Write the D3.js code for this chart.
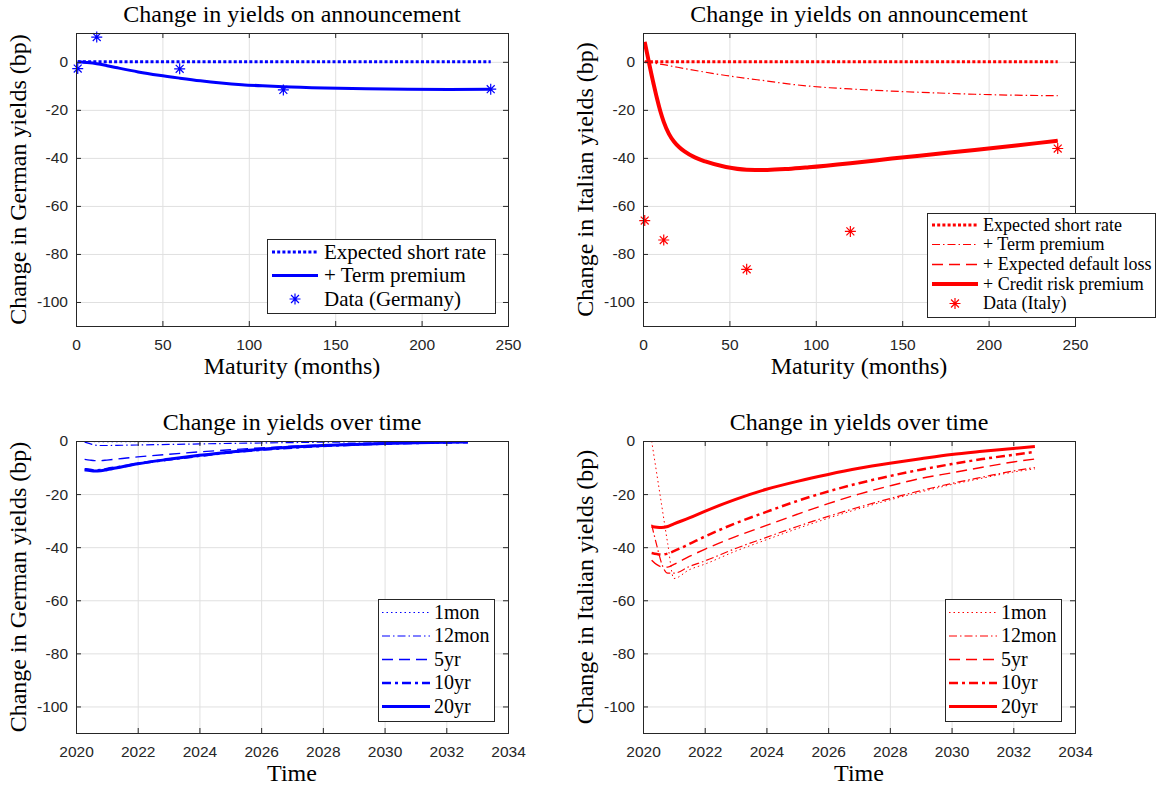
<!DOCTYPE html>
<html>
<head>
<meta charset="utf-8">
<script src="https://cdn.jsdelivr.net/npm/d3@7"></script>
<style>
  body { margin: 0; background: #fff; }
  svg { display: block; }
  .serif { font-family: "Liberation Serif", "Times New Roman", serif; fill: #000; }
  .tick text { font-family: "Liberation Sans", Arial, sans-serif; font-size: 15.5px; fill: #262626; }
  .tick line { stroke: #262626; }
  .grid .tick line { stroke: #e0e0e0; }
</style>
</head>
<body>
<svg id="fig" width="1162" height="787"></svg>
<script>
// ---------- Announcement effect by maturity (months) ----------
const maturities = [1, 3, 6, 12, 18, 24, 36, 48, 60, 72, 84, 96, 108, 120, 144, 168, 192, 216, 240];
const deShortRate = [0, 0, 0, 0, 0, 0, 0, 0, 0, 0, 0, 0, 0, 0, 0, 0, 0, 0, 0];
const deTermPremium = [0, -0.1, -0.3, -0.8, -1.6, -2.5, -4.2, -5.6, -6.8, -7.9, -8.8, -9.5, -10.0, -10.4, -10.9, -11.2, -11.4, -11.5, -11.4];
const itShortRate = [0, 0, 0, 0, 0, 0, 0, 0, 0, 0, 0, 0, 0, 0, 0, 0, 0, 0, 0];
const itTermPremium = [0, -0.2, -0.5, -1.2, -2.0, -2.8, -4.3, -5.7, -6.9, -8.0, -9.2, -10.1, -10.8, -11.3, -12.2, -12.9, -13.5, -13.9, -14.1];

const creditMaturities = [1, 2, 3, 4, 5, 6, 8, 10, 12, 15, 18, 21, 24, 30, 36, 48, 60, 72, 84, 96, 120, 144, 168, 192, 216, 240];
const itDefaultLoss = [8.3, 4.8, 1.3, -2.2, -5.6, -8.8, -15.0, -20.5, -25.0, -30.0, -33.3, -35.6, -37.3, -39.8, -41.5, -43.8, -44.9, -45.0, -44.6, -43.9, -42.2, -40.3, -38.5, -36.7, -34.8, -32.9];
const itCreditRisk = [8.3, 4.8, 1.3, -2.2, -5.6, -8.8, -15.0, -20.5, -25.0, -30.0, -33.3, -35.6, -37.3, -39.8, -41.5, -43.8, -44.9, -45.0, -44.6, -43.9, -42.2, -40.3, -38.5, -36.7, -34.8, -32.9];

const dataMaturities = [1, 12, 60, 120, 240];
const deData = [-2.8, 10.3, -2.9, -11.7, -11.4];
const itData = [-66.1, -74.2, -86.4, -70.6, -36.1];

// ---------- Yield changes over time ----------
const years = [2020.28, 2020.45, 2020.6, 2020.8, 2021, 2021.5, 2022, 2023, 2024, 2025, 2026, 2027, 2028, 2029, 2030, 2031, 2032, 2032.7];
const de1mon  = [0, -0.15, -0.25, -0.3, -0.3, -0.28, -0.25, -0.22, -0.2, -0.17, -0.15, -0.12, -0.1, -0.08, -0.06, -0.05, -0.04, -0.03];
const de12mon = [-0.4, -1.0, -1.5, -1.7, -1.7, -1.6, -1.5, -1.3, -1.1, -0.9, -0.75, -0.6, -0.45, -0.35, -0.28, -0.2, -0.15, -0.12];
const de5yr   = [-6.9, -7.2, -7.4, -7.4, -7.2, -6.6, -6.0, -5.0, -4.1, -3.3, -2.6, -2.0, -1.5, -1.15, -0.85, -0.6, -0.45, -0.35];
const de10yr  = [-10.6, -10.8, -11.0, -10.9, -10.5, -9.6, -8.6, -7.0, -5.6, -4.3, -3.3, -2.5, -1.9, -1.4, -1.0, -0.75, -0.55, -0.45];
const de20yr  = [-10.9, -11.1, -11.3, -11.2, -10.8, -9.7, -8.6, -6.9, -5.4, -4.1, -3.1, -2.3, -1.7, -1.3, -0.95, -0.7, -0.5, -0.4];

const it1mon  = [0, -12.6, -23.8, -38.6, -51.8, -48.5, -46.4, -41.5, -37.2, -33.0, -29.1, -25.5, -22.2, -19.2, -16.4, -14.0, -11.7, -10.5];
const it12mon = [-31.5, -39.5, -46.0, -49.8, -49.8, -47.3, -45.2, -40.5, -36.3, -32.2, -28.4, -24.9, -21.7, -18.7, -16.0, -13.6, -11.3, -10.0];
const it5yr   = [-44.9, -46.6, -47.4, -47.5, -46.5, -43.5, -40.8, -36.0, -31.8, -27.6, -23.6, -20.0, -16.9, -14.1, -12.0, -9.9, -7.9, -6.8];
const it10yr  = [-42.2, -42.6, -42.8, -42.4, -41.5, -38.8, -36.0, -31.0, -26.7, -22.6, -19.0, -15.9, -13.2, -10.8, -8.7, -6.8, -5.2, -4.1];
const it20yr  = [-32.2, -32.5, -32.6, -32.2, -31.2, -29.0, -26.5, -22.0, -18.2, -15.2, -12.6, -10.3, -8.4, -6.7, -5.1, -3.9, -2.8, -2.1];

// ---------- Axis ticks ----------
const maturityTicks = [0, 50, 100, 150, 200, 250];
const yearTicks = [2020, 2022, 2024, 2026, 2028, 2030, 2032, 2034];
const bpTicks = [-100, -80, -60, -40, -20, 0];

// ---------- Drawing ----------
const BLUE = "#0000ff", RED = "#ff0000";
const svg = d3.select("#fig");
svg.append("rect").attr("width", 1162).attr("height", 787).attr("fill", "#fff");
const defs = svg.append("defs");

function zip(xs, ys) { return xs.map((v, i) => [v, ys[i]]); }

function asteriskPath(r) {
  const d = r * 0.72;
  return `M0,${-r}L0,${r}M${-r},0L${r},0M${-d},${-d}L${d},${d}M${-d},${d}L${d},${-d}`;
}

function makePanel(id, box, xDom, yDom, xTicks, title, xLabel, yLabel) {
  const [left, top, right, bottom] = box;
  const w = right - left, h = bottom - top;
  const x = d3.scaleLinear().domain(xDom).range([0, w]);
  const y = d3.scaleLinear().domain(yDom).range([h, 0]);
  const g = svg.append("g").attr("transform", `translate(${left},${top})`);

  defs.append("clipPath").attr("id", id).append("rect").attr("width", w).attr("height", h);

  // grid
  const gx = g.append("g").attr("class", "grid")
    .call(d3.axisBottom(x).tickValues(xTicks).tickSize(h).tickFormat(""));
  const gy = g.append("g").attr("class", "grid")
    .call(d3.axisLeft(y).tickValues(bpTicks).tickSize(-w).tickFormat(""));
  gx.select(".domain").remove();
  gy.select(".domain").remove();

  const plot = g.append("g").attr("clip-path", `url(#${id})`);
  const marks = g.append("g");

  // axes with inward ticks on all four sides
  const fmt = d => String(d);
  const axB = g.append("g").attr("transform", `translate(0,${h})`)
    .call(d3.axisBottom(x).tickValues(xTicks).tickSize(-5).tickPadding(13).tickFormat(fmt));
  const axT = g.append("g").call(d3.axisTop(x).tickValues(xTicks).tickSize(-5).tickFormat(""));
  const axL = g.append("g").call(d3.axisLeft(y).tickValues(bpTicks).tickSize(-5).tickPadding(8).tickFormat(fmt));
  const axR = g.append("g").attr("transform", `translate(${w},0)`)
    .call(d3.axisRight(y).tickValues(bpTicks).tickSize(-5).tickFormat(""));
  [axB, axT, axL, axR].forEach(a => a.select(".domain").remove());
  g.append("rect").attr("x", 0.5).attr("y", 0.5).attr("width", w).attr("height", h)
    .attr("fill", "none").attr("stroke", "#262626").attr("stroke-width", 1);

  g.append("text").attr("class", "serif").attr("x", w / 2).attr("y", -11)
    .attr("text-anchor", "middle").attr("font-size", 24).text(title);
  g.append("text").attr("class", "serif").attr("x", w / 2).attr("y", h + 48)
    .attr("text-anchor", "middle").attr("font-size", 24).text(xLabel);
  g.append("text").attr("class", "serif")
    .attr("transform", `translate(-50,${h / 2}) rotate(-90)`)
    .attr("text-anchor", "middle").attr("font-size", 24).text(yLabel);

  return { x, y, plot, marks };
}

function drawLine(p, xs, ys, st) {
  const line = d3.line().x(d => p.x(d[0])).y(d => p.y(d[1])).curve(d3.curveMonotoneX);
  p.plot.append("path").datum(zip(xs, ys)).attr("d", line)
    .attr("fill", "none").attr("stroke", st.color).attr("stroke-width", st.width)
    .attr("stroke-dasharray", st.dash || null).attr("stroke-linejoin", "round");
}

function drawStars(p, xs, ys, color) {
  p.marks.selectAll(null).data(zip(xs, ys)).join("path")
    .attr("transform", d => `translate(${p.x(d[0])},${p.y(d[1])})`)
    .attr("d", asteriskPath(5.5)).attr("fill", "none")
    .attr("stroke", color).attr("stroke-width", 1.2);
}

function drawLegend(box, rows, entries, fs, sx0, sx1, tx) {
  const [l, t, r, b] = box;
  const g = svg.append("g");
  g.append("rect").attr("x", l + 0.5).attr("y", t + 0.5).attr("width", r - l).attr("height", b - t)
    .attr("fill", "#fff").attr("stroke", "#262626").attr("stroke-width", 1);
  entries.forEach((e, i) => {
    const yy = rows[i];
    if (e.marker) {
      g.append("path").attr("transform", `translate(${(sx0 + sx1) / 2},${yy})`)
        .attr("d", asteriskPath(5.5)).attr("fill", "none").attr("stroke", e.color).attr("stroke-width", 1.2);
    } else {
      g.append("line").attr("x1", sx0).attr("x2", sx1).attr("y1", yy).attr("y2", yy)
        .attr("stroke", e.color).attr("stroke-width", e.width).attr("stroke-dasharray", e.dash || null);
    }
    g.append("text").attr("class", "serif").attr("x", tx).attr("y", yy + fs * 0.31)
      .attr("font-size", fs).text(e.label);
  });
}

// line styles
const sDot = c => ({ color: c, width: 3, dash: "3,2.2" });
const sThick = c => ({ color: c, width: 3 });
const sThicker = c => ({ color: c, width: 4 });
const sDashDot = c => ({ color: c, width: 1.2, dash: "8,3,1.5,3" });
const sDash = c => ({ color: c, width: 1.4, dash: "11,6" });
const sFineDot = c => ({ color: c, width: 1, dash: "1.5,3" });
const sThickDashDot = c => ({ color: c, width: 2.5, dash: "9,4,3,4" });

// Panel 1: Germany, announcement
const p1 = makePanel("clipA", [76, 33, 508, 326], [0, 250], [-110, 12], maturityTicks,
  "Change in yields on announcement", "Maturity (months)", "Change in German yields (bp)");
drawLine(p1, maturities, deShortRate, sDot(BLUE));
drawLine(p1, maturities, deTermPremium, sThick(BLUE));
drawStars(p1, dataMaturities, deData, BLUE);

// Panel 2: Italy, announcement
const p2 = makePanel("clipB", [643, 33, 1075, 326], [0, 250], [-110, 12], maturityTicks,
  "Change in yields on announcement", "Maturity (months)", "Change in Italian yields (bp)");
drawLine(p2, maturities, itShortRate, sDot(RED));
drawLine(p2, maturities, itTermPremium, sDashDot(RED));
drawLine(p2, creditMaturities, itDefaultLoss, sDash(RED));
drawLine(p2, creditMaturities, itCreditRisk, sThicker(RED));
drawStars(p2, dataMaturities, itData, RED);

// Panel 3: Germany, over time
const p3 = makePanel("clipC", [76, 441, 508, 733], [2020, 2034], [-110, 0], yearTicks,
  "Change in yields over time", "Time", "Change in German yields (bp)");
drawLine(p3, years, de1mon, sFineDot(BLUE));
drawLine(p3, years, de12mon, sDashDot(BLUE));
drawLine(p3, years, de5yr, sDash(BLUE));
drawLine(p3, years, de10yr, sThickDashDot(BLUE));
drawLine(p3, years, de20yr, sThick(BLUE));

// Panel 4: Italy, over time
const p4 = makePanel("clipD", [643, 441, 1075, 733], [2020, 2034], [-110, 0], yearTicks,
  "Change in yields over time", "Time", "Change in Italian yields (bp)");
drawLine(p4, years, it1mon, sFineDot(RED));
drawLine(p4, years, it12mon, sDashDot(RED));
drawLine(p4, years, it5yr, sDash(RED));
drawLine(p4, years, it10yr, sThickDashDot(RED));
drawLine(p4, years, it20yr, sThick(RED));

// Legends
drawLegend([267, 239, 495, 313], [252, 275.5, 299], [
  { label: "Expected short rate", ...sDot(BLUE) },
  { label: "+ Term premium", ...sThick(BLUE) },
  { label: "Data (Germany)", color: BLUE, marker: true }
], 21, 272, 318, 324);

drawLegend([927, 213, 1155, 317], [225, 244.5, 264.5, 284, 303.5], [
  { label: "Expected short rate", ...sDot(RED) },
  { label: "+ Term premium", ...sDashDot(RED) },
  { label: "+ Expected default loss", ...sDash(RED) },
  { label: "+ Credit risk premium", ...sThicker(RED) },
  { label: "Data (Italy)", color: RED, marker: true }
], 18, 932, 978, 983);

const horizonLabels = ["1mon", "12mon", "5yr", "10yr", "20yr"];
const horizonRows = [612.5, 636, 659.5, 683, 706.5];
const horizonStyles = [sFineDot, sDashDot, sDash, sThickDashDot, sThick];
drawLegend([378, 599, 494, 721], horizonRows,
  horizonLabels.map((lab, i) => ({ label: lab, ...horizonStyles[i](BLUE) })), 20, 382, 430, 434);
drawLegend([945, 599, 1061, 721], horizonRows,
  horizonLabels.map((lab, i) => ({ label: lab, ...horizonStyles[i](RED) })), 20, 949, 997, 1001);
</script>
</body>
</html>
